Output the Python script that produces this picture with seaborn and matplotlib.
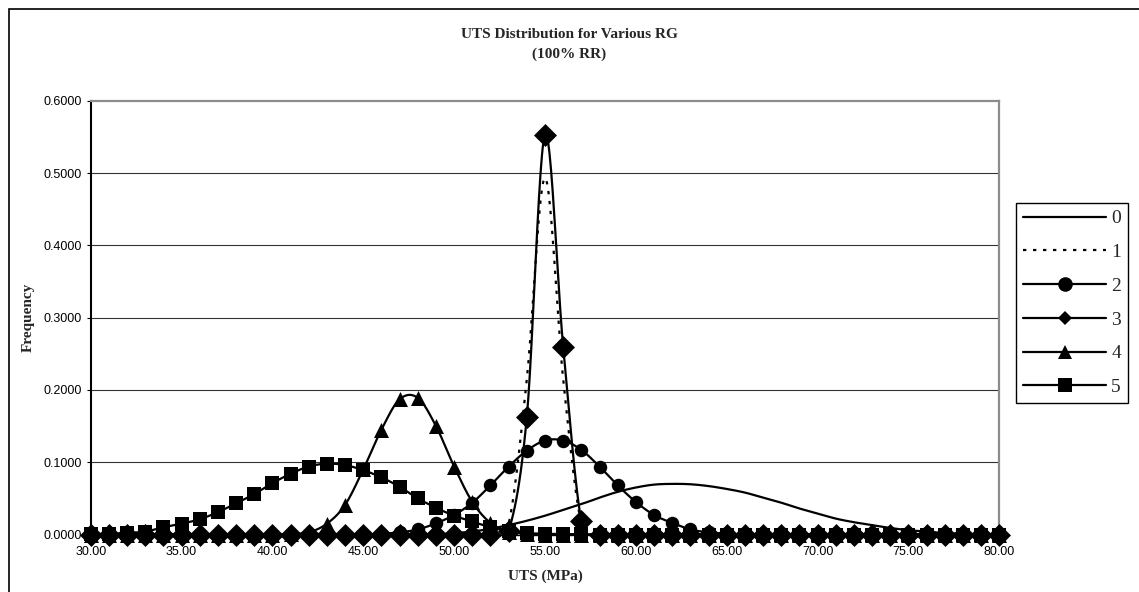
import numpy as np
import matplotlib
matplotlib.use("Agg")
import matplotlib.pyplot as plt
import seaborn as sns
from matplotlib.lines import Line2D
from matplotlib.patches import Rectangle

# UTS bins (MPa)
uts = list(range(30, 81))

# Frequency of each RG group per UTS bin
rg0 = [0] * 20 + [0.002, 0.004, 0.008, 0.013, 0.019, 0.026, 0.034, 0.042, 0.051, 0.059,
                  0.065, 0.069, 0.070, 0.0695, 0.067, 0.063, 0.058, 0.051, 0.044, 0.036,
                  0.029, 0.022, 0.017, 0.013, 0.009, 0.006, 0.004, 0.002, 0.001, 0.0005,
                  0.0002]
rg1 = [0] * 23 + [0.015, 0.215, 0.493, 0.215, 0.015] + [0] * 23
rg2 = [0] * 16 + [0.001, 0.003, 0.007, 0.0155, 0.027, 0.044, 0.068, 0.094, 0.116, 0.130,
                  0.130, 0.117, 0.094, 0.068, 0.045, 0.027, 0.016, 0.007, 0.003, 0.001] + [0] * 15
rg3 = [0] * 23 + [0.005, 0.163, 0.553, 0.260, 0.019] + [0] * 23
rg4 = [0] * 11 + [0.0005, 0.003, 0.015, 0.041, 0.090, 0.145, 0.187, 0.189, 0.150, 0.094,
                  0.045, 0.016, 0.004, 0.001] + [0] * 26
rg5 = [0.0005, 0.001, 0.002, 0.004, 0.010, 0.015, 0.021, 0.031, 0.043, 0.056,
       0.071, 0.084, 0.094, 0.098, 0.096, 0.089, 0.079, 0.066, 0.050, 0.037,
       0.026, 0.018, 0.010, 0.005, 0.002, 0.001, 0.0005, 0.0002] + [0] * 23

labels = ["0", "1", "2", "3", "4", "5"]
series = [rg0, rg1, rg2, rg3, rg4, rg5]
markers = [None, None, "o", "D", "^", "s"]
marker_sizes = [0, 0, 9.7, 11.7, 10.8, 10.0]
legend_sizes = [0, 0, 10.5, 7.2, 10.5, 10.5]
line_styles = ["-", (0, (1.5, 3.0)), "-", "-", "-", "-"]


def smooth_curve(x, y, steps=24):
    """Catmull-Rom spline through the points (smoothed line)."""
    p = np.column_stack([np.asarray(x, float), np.asarray(y, float)])
    p = np.vstack([p[0], p, p[-1]])
    out = []
    t = np.linspace(0, 1, steps, endpoint=False)[:, None]
    for i in range(1, len(p) - 2):
        p0, p1, p2, p3 = p[i - 1], p[i], p[i + 1], p[i + 2]
        seg = 0.5 * (2 * p1 + (-p0 + p2) * t + (2 * p0 - 5 * p1 + 4 * p2 - p3) * t ** 2
                     + (-p0 + 3 * p1 - 3 * p2 + p3) * t ** 3)
        out.append(seg)
    out.append(p[-2][None, :])
    out = np.vstack(out)
    return out[:, 0], out[:, 1]


sns.set_theme(style="white")
plt.rcParams["font.family"] = ["Liberation Sans", "DejaVu Sans"]

W, H = 1139, 592
X0, X1, Y0, Y1 = 90.7, 999.3, 534.5, 100.7   # plot area in pixels
fig = plt.figure(figsize=(W / 100, H / 100), dpi=100)
fig.patch.set_facecolor("white")
ax = fig.add_axes([X0 / W, 1 - Y0 / H, (X1 - X0) / W, (Y0 - Y1) / H])
ax.set_facecolor("white")

for vals, m, ms, ls in zip(series, markers, marker_sizes, line_styles):
    sx, sy = smooth_curve(uts, vals)
    sns.lineplot(x=sx, y=sy, ax=ax, color="black", linewidth=1.6, linestyle=ls,
                 estimator=None, sort=False, legend=False, zorder=3)
    if m is not None:
        sns.scatterplot(x=uts, y=vals, ax=ax, color="black", marker=m, s=ms ** 2,
                        linewidth=0, legend=False, zorder=4, clip_on=False)

ax.set_xlim(30, 80)
ax.set_ylim(0, 0.6)
ax.set_xticks(np.arange(30, 81, 5))
ax.set_xticklabels([f"{v:.2f}" for v in np.arange(30, 81, 5)])
ax.set_yticks(np.arange(0, 0.61, 0.1))
ax.set_yticklabels([f"{v:.4f}" for v in np.arange(0, 0.61, 0.1)])
ax.tick_params(axis="x", length=0, pad=8.4, labelsize=9, colors="black")
ax.tick_params(axis="y", length=2.9, width=0.8, pad=3.4, labelsize=9, colors="black",
               direction="out", left=True)

for yv in np.arange(0.1, 0.55, 0.1):
    ax.axhline(yv, color="#333333", linewidth=0.8, zorder=1)

ax.spines["left"].set_color("black")
ax.spines["left"].set_linewidth(1.5)
ax.spines["bottom"].set_color("black")
ax.spines["bottom"].set_linewidth(1.0)
for side in ("top", "right"):
    ax.spines[side].set_color("#8c8c8c")
    ax.spines[side].set_linewidth(1.6)

serif = ["Liberation Serif", "DejaVu Serif"]
ax.set_xlabel("UTS (MPa)", family=serif, fontweight="bold", fontsize=11)
ax.set_ylabel("Frequency", family=serif, fontweight="bold", fontsize=11)
ax.xaxis.set_label_coords(0.5, (Y0 - 569.5) / (Y0 - Y1))
ax.yaxis.set_label_coords((35 - X0) / (X1 - X0), 0.5)

fig.text(0.5, 1 - 34.5 / H, "UTS Distribution for Various RG", family=serif,
         fontweight="bold", fontsize=11, ha="center", va="center")
fig.text(0.5, 1 - 54.5 / H, "(100% RR)", family=serif,
         fontweight="bold", fontsize=11, ha="center", va="center")

handles = []
for m, ms, ls in zip(markers, legend_sizes, line_styles):
    handles.append(Line2D([], [], color="black", linewidth=1.6, linestyle=ls,
                          marker=m if m else "", markersize=ms, markeredgewidth=0))
leg = fig.legend(handles, labels, loc="upper left",
                 bbox_to_anchor=(1016 / W, 1 - 203 / H),
                 prop={"family": serif, "size": 14},
                 frameon=True, fancybox=False, framealpha=1, edgecolor="black",
                 borderpad=0.35, handlelength=4.3, handletextpad=0.25,
                 labelspacing=0.83, borderaxespad=0)
leg.get_frame().set_linewidth(1.0)

fig.patches.append(Rectangle((8.7 / W, -0.02), 1.05, 1 - 9.2 / H + 0.02,
                             transform=fig.transFigure, fill=False,
                             edgecolor="black", linewidth=1.2, clip_on=False))

fig.savefig("out.png", dpi=100, facecolor="white")
